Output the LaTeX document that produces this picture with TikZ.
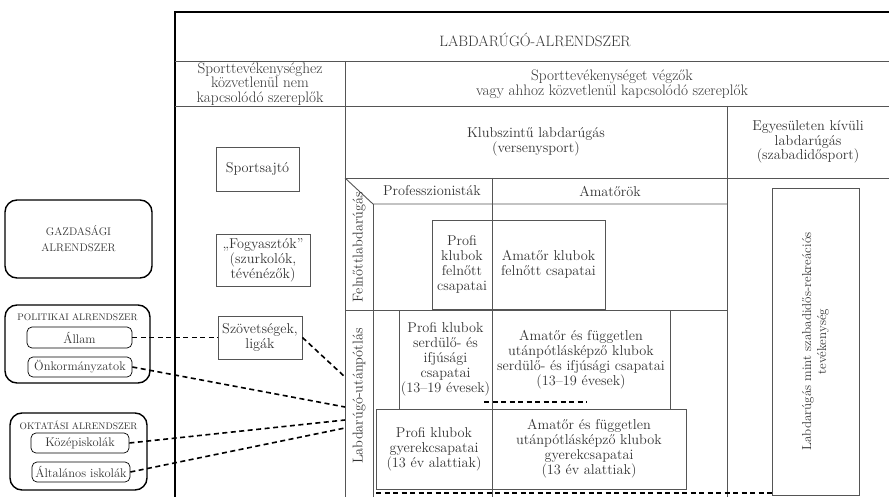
\documentclass[tikz,border=0pt]{standalone}
\usepackage{fontspec}
\usetikzlibrary{positioning}
\definecolor{linegray}{HTML}{555555}
\definecolor{textgray}{HTML}{333333}
\tikzset{
  frame/.style={line width=1.8pt, black},
  gridline/.style={line width=0.9pt, linegray},
  txt/.style={align=center, inner sep=1pt, text=textgray, font=\fontsize{14.3}{14.5}\selectfont},
  headtxt/.style={txt, font=\fontsize{15.2}{14.6}\selectfont},
  cbox/.style={draw=linegray, line width=0.9pt, align=center, inner sep=1pt, text=textgray, font=\fontsize{14.3}{15}\selectfont},
  sysbox/.style={draw=black, line width=1.4pt, rounded corners=12pt},
  subbox/.style={draw=black, line width=0.7pt, rounded corners=5pt, inner sep=1pt, text=textgray, font=\fontsize{12.5}{14}\selectfont},
  capslabel/.style={text=textgray, inner sep=1pt, align=center, font=\fontsize{9.5}{12}\selectfont},
  conn/.style={line width=1.6pt, black, dash pattern=on 5pt off 3.5pt}
}
\begin{document}
\begin{tikzpicture}[x=1pt, y=-1pt]

    \useasboundingbox (0,0) rectangle (889,497);

    % Draw the frame of the football subsystem
    \draw[frame] (175,497) -- (175,12) -- (889,12);
    \draw[gridline] (175,61) -- (889,61);
    \draw[gridline] (175,106) -- (889,106);
    \draw[gridline] (345,61) -- (345,497);
    \draw[gridline] (345,178) -- (889,178);
    \draw[gridline] (727,106) -- (727,497);

    % Draw the inner grid of club football
    \draw[gridline] (345,178) -- (373,204) -- (727,204);
    \draw[gridline] (373,204) -- (373,497);
    \draw[gridline] (492,178) -- (492,497);
    \draw[gridline] (345,310) -- (727,310);

    % Label the headers
    \node[txt, font=\fontsize{15}{15}\selectfont] (title) at (535,40) {LABDARÚGÓ-ALRENDSZER};
    \node[headtxt] (nemsport) at (260,84) {Sporttevékenységhez\\közvetlenül nem\\kapcsolódó szereplők};
    \node[headtxt] (sport) at (612,84) {Sporttevékenységet végzők\\vagy ahhoz közvetlenül kapcsolódó szereplők};
    \node[txt] (klub) at (536,142) {Klubszintű labdarúgás\\(versenysport)};
    \node[txt] (egyes) at (808,142) {Egyesületen kívüli\\labdarúgás\\(szabadidősport)};
    \node[txt] (profi) at (432,191) {Professzionisták};
    \node[txt] (amator) at (610,191) {Amatőrök};
    \node[txt, rotate=90] (felnott) at (359,247) {Felnőttlabdarúgás};
    \node[txt, rotate=90] (utanp) at (359,396) {Labdarúgó-utánpótlás};

    % Draw the actors not doing sport
    \node[cbox, minimum width=83pt, minimum height=44pt] (sajto) at (257.5,169) {Sportsajtó};
    \node[cbox, minimum width=94pt, minimum height=52pt] (fogy) at (263,260) {„Fogyasztók”\\(szurkolók,\\tévénézők)};
    \node[cbox, minimum width=84pt, minimum height=43pt] (szov) at (260,337.5) {Szövetségek,\\ligák};

    % Draw the teams
    \node[cbox, minimum width=60pt, minimum height=89pt] (profifel) at (462,264.5) {Profi\\klubok\\felnőtt\\csapatai};
    \node[cbox, minimum width=113pt, minimum height=89pt] (amfel) at (548.5,264.5) {Amatőr klubok\\felnőtt csapatai};
    \node[cbox, minimum width=93pt, minimum height=99pt] (profiserd) at (445.5,359.5) {Profi klubok\\serdülő- és\\ifjúsági\\csapatai\\(13–19 évesek)};
    \node[cbox, minimum width=178pt, minimum height=99pt] (amserd) at (581,359.5) {Amatőr és független\\utánpótlásképző klubok\\serdülő- és ifjúsági csapatai\\(13–19 évesek)};
    \node[cbox, minimum width=116pt, minimum height=80pt] (profigy) at (434,449) {Profi klubok\\gyerekcsapatai\\(13 év alattiak)};
    \node[cbox, minimum width=194pt, minimum height=80pt] (amgy) at (589,449) {Amatőr és független\\utánpótlásképző klubok\\gyerekcsapatai\\(13 év alattiak)};
    \node[cbox, minimum width=87pt, minimum height=307pt] (szabad) at (815.5,341.5) {};
    \node[txt, rotate=90, font=\fontsize{13}{15}\selectfont] at (szabad.center) {Labdarúgás mint szabadidős-rekreációs\\tevékenység};

    \draw[conn] (484,402) -- (587,402);
    \draw[conn] (376,493) -- (772,493);

    % Draw the other subsystems
    \node[sysbox, minimum width=147pt, minimum height=78pt] (gazd) at (78.5,239) {};
    \node[capslabel, font=\fontsize{11}{16}\selectfont] at (gazd.center) {GAZDASÁGI\\ALRENDSZER};

    \node[sysbox, minimum width=145pt, minimum height=78pt] (polit) at (77.5,344) {};
    \node[capslabel] (politlabel) at (77.5,317) {POLITIKAI ALRENDSZER};
    \node[subbox, minimum width=105pt, minimum height=21pt] (allam) at (79.5,337.5) {Állam};
    \node[subbox, minimum width=104pt, minimum height=20pt] (onk) at (80,367) {Önkormányzatok};

    \node[sysbox, minimum width=137pt, minimum height=77pt] (oktat) at (78.5,451.5) {};
    \node[capslabel] (oktatlabel) at (78.5,425) {OKTATÁSI ALRENDSZER};
    \node[subbox, minimum width=98pt, minimum height=20pt] (kozep) at (80,443) {Középiskolák};
    \node[subbox, minimum width=98pt, minimum height=20pt] (altal) at (81,472) {Általános iskolák};

    % Connect the subsystems to football
    \coordinate (u1) at (345,377);
    \coordinate (u2) at (345,407);
    \coordinate (u3) at (345,420);
    \coordinate (u4) at (345,428);
    \draw[conn] (allam.east) -- (szov.west);
    \draw[conn] (szov.east) -- (u1);
    \draw[conn] (onk.east) -- (u2);
    \draw[conn] (kozep.east) -- (u3);
    \draw[conn] (altal.east) -- (u4);

\end{tikzpicture}
\end{document}
